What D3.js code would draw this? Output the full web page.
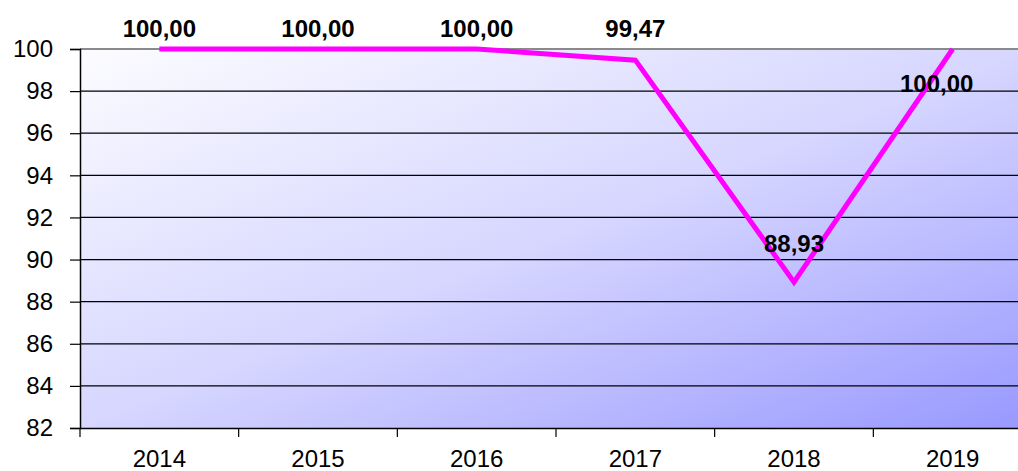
<!DOCTYPE html>
<html><head><meta charset="utf-8">
<script src="https://cdn.jsdelivr.net/npm/d3@7"></script>
<style>body{margin:0;background:#fff}svg{display:block}text{font-family:"Liberation Sans",Arial,sans-serif}</style>
</head><body>
<svg id="c" width="1018" height="471"></svg>
<script>
const years = ["2014","2015","2016","2017","2018","2019"];
const values = [100.00, 100.00, 100.00, 99.47, 88.93, 100.00];
const labels = ["100,00","100,00","100,00","99,47","88,93","100,00"];
const yTicks = [82,84,86,88,90,92,94,96,98,100];

(function(){
const svg = d3.select("#c");
const pL = 80, pR = 1032, pT = 49, pB = 428;
const FS = 24;
const x = d3.scaleBand().domain(years).range([pL, pR]).padding(0);
const y = d3.scaleLinear().domain([82, 100]).range([pB, pT]);

const defs = svg.append("defs");
const g = defs.append("linearGradient").attr("id","bg")
  .attr("x1",0).attr("y1",0).attr("x2",1).attr("y2",1);
g.append("stop").attr("offset","0").attr("stop-color","#fcfcff");
g.append("stop").attr("offset","0.5").attr("stop-color","#d6d6ff");
g.append("stop").attr("offset","1").attr("stop-color","#9898ff");

svg.append("rect").attr("x",pL).attr("y",pT).attr("width",pR-pL).attr("height",pB-pT).attr("fill","url(#bg)");

// grid
svg.append("g").selectAll("line").data(yTicks.filter(d=>d>82 && d<100)).join("line")
  .attr("x1",pL).attr("x2",pR).attr("y1",d=>y(d)).attr("y2",d=>y(d))
  .attr("stroke","#000").attr("stroke-width",1.2);
svg.append("line").attr("x1",pL).attr("x2",pR).attr("y1",pT).attr("y2",pT).attr("stroke","#8a8a8a").attr("stroke-width",2);

// y axis
const ya = svg.append("g").attr("transform",`translate(${pL},0)`)
  .call(d3.axisLeft(y).tickValues(yTicks).tickSize(10).tickPadding(17).tickFormat(d3.format("d")));
ya.select(".domain").attr("stroke","#000").attr("stroke-width",1.5);
ya.selectAll(".tick line").attr("stroke","#000").attr("stroke-width",1.2);
ya.selectAll("text").attr("font-size",FS).attr("fill","#000").style("font-family","'Liberation Sans',Arial,sans-serif");

// x axis
const xa = svg.append("g").attr("transform",`translate(0,${pB})`)
  .call(d3.axisBottom(x).tickSize(0).tickPadding(24));
xa.select(".domain").attr("stroke","#000").attr("stroke-width",1.5);
xa.selectAll("text").attr("font-size",FS).attr("fill","#000").attr("y",39).attr("dy",0)
  .style("font-family","'Liberation Sans',Arial,sans-serif");
svg.append("g").selectAll("line").data(d3.range(years.length+1)).join("line")
  .attr("x1",i=>pL+i*x.bandwidth()).attr("x2",i=>pL+i*x.bandwidth())
  .attr("y1",pB).attr("y2",pB+9).attr("stroke","#000").attr("stroke-width",1.2);

// line
const cx = d => x(d) + x.bandwidth()/2;
const line = d3.line().x((d,i)=>cx(years[i])).y(d=>y(d));
svg.append("path").datum(values).attr("d",line).attr("fill","none")
  .attr("stroke","#ff00ff").attr("stroke-width",5).attr("stroke-linejoin","miter");

// labels
const dy = [-12,-12,-12,-23,-30,43];
const dx = [0,0,0,0,0,-16];
svg.append("g").selectAll("text").data(values).join("text")
  .attr("x",(d,i)=>cx(years[i])+dx[i]).attr("y",(d,i)=>y(d)+dy[i])
  .attr("text-anchor","middle").attr("font-size",FS).attr("font-weight","bold").attr("fill","#000")
  .text((d,i)=>labels[i]);
})();
</script>
</body></html>
